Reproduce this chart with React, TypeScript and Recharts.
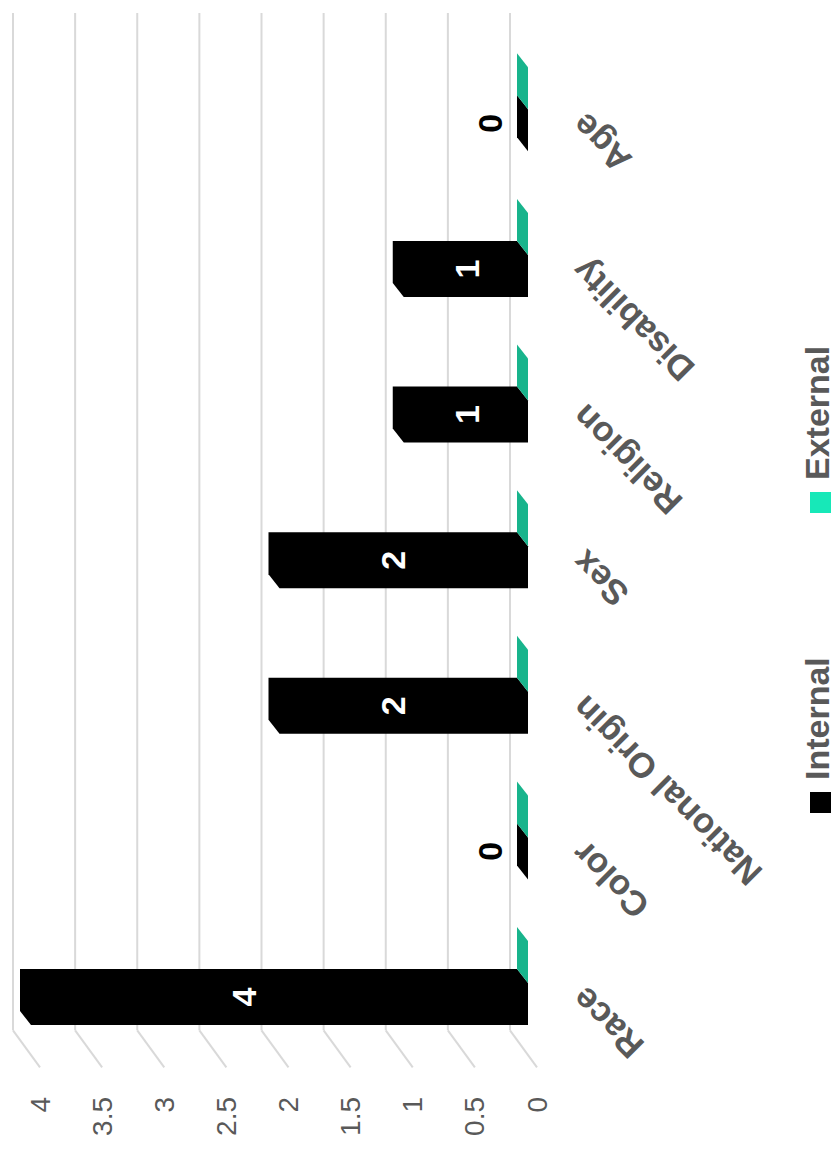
import React from 'react'
import { BarChart, Bar, XAxis, YAxis, CartesianGrid, LabelList } from 'recharts'

const categories = ['Race', 'Color', 'National Origin', 'Sex', 'Religion', 'Disability', 'Age']
const internalValues = [4, 0, 2, 2, 1, 1, 0]
const externalValues = [0, 0, 0, 0, 0, 0, 0]
const valueTicks = [0, 0.5, 1, 1.5, 2, 2.5, 3, 3.5, 4]
const seriesNames = ['Internal', 'External']
const seriesColors = ['#000000', '#17E8B8']
const topFaceColors = ['#000000', '#18B48C']

const data = categories.map((name, i) => ({
  name,
  internal: internalValues[i],
  external: externalValues[i]
}))

// chart is drawn upright, then the whole thing is turned a quarter turn left
const W = 1157
const H = 838
const FONT = '"Liberation Sans", Arial, sans-serif'
const GREY = '#595959'

// fake 3d depth
const DX = 14
const DY = -11
const WALL_DX = 26
const WALL_DY = -18
const FLOOR_DX = -37
const FLOOR_DY = 27

const makeBox = (fill: string) => (props: any) => {
  const { x, y, width, height } = props
  const w = width
  const h = Math.max(0, height)
  const pts = [
    [x, y],
    [x + DX, y + DY],
    [x + w + DX, y + DY],
    [x + w + DX, y + h + DY],
    [x + w, y + h],
    [x, y + h]
  ]
  return <polygon points={pts.map((p) => p.join(',')).join(' ')} fill={fill} />
}

const gridLine = (props: any) => {
  const { x1, x2, y1, index } = props
  const bx1 = x1 + WALL_DX
  const bx2 = x2 + 24
  const by = y1 + WALL_DY
  return (
    <g key={'g' + index}>
      <line x1={bx1} y1={by} x2={bx2} y2={by} stroke="#D9D9D9" strokeWidth={2} />
      <line x1={bx1} y1={by} x2={bx1 + FLOOR_DX} y2={by + FLOOR_DY} stroke="#D9D9D9" strokeWidth={2} />
    </g>
  )
}

const ValueTick = (props: any) => {
  const { y, payload } = props
  return (
    <text x={60} y={y + WALL_DY + FLOOR_DY} textAnchor="end" dominantBaseline="central"
      fontFamily={FONT} fontSize={28} fill={GREY}>
      {payload.value}
    </text>
  )
}

const CategoryTick = (props: any) => {
  const { x, payload } = props
  const ax = x - 10
  const ay = 578
  return (
    <text x={ax} y={ay} textAnchor="end" dominantBaseline="central"
      transform={`rotate(-45 ${ax} ${ay})`}
      fontFamily={FONT} fontSize={35} fontWeight="bold" fill={GREY}>
      {payload.value}
    </text>
  )
}

const DataLabel = (props: any) => {
  const { x, y, width, height, value } = props
  const cx = x + width / 2 + DX / 2
  const base = y + height
  const cy = value === 0 ? base - 38 : base - (0.6 * height - 14)
  return (
    <text x={cx} y={cy} textAnchor="middle" dominantBaseline="central"
      fontFamily={FONT} fontSize={34} fontWeight="bold" fill={value === 0 ? '#000' : '#fff'}>
      {value}
    </text>
  )
}

export default function App() {
  return (
    <div style={{ position: 'absolute', left: 0, top: 0, width: H, height: W, overflow: 'hidden', background: '#fff' }}>
      <div
        style={{
          position: 'absolute',
          left: 0,
          top: 0,
          width: W,
          height: H,
          transformOrigin: '0 0',
          transform: `translateY(${W}px) rotate(-90deg)`
        }}
      >
        <BarChart
          width={W}
          height={H}
          data={data}
          margin={{ top: 31, right: 37, bottom: 280, left: 40.7 }}
          barCategoryGap="21.5%"
          barGap={0}
        >
          <CartesianGrid vertical={false} horizontal={gridLine} />
          <XAxis dataKey="name" height={30} axisLine={false} tickLine={false} interval={0} tick={<CategoryTick />} />
          <YAxis width={60} domain={[0, 4]} ticks={valueTicks} axisLine={false} tickLine={false} tick={<ValueTick />} />
          <Bar dataKey="internal" name={seriesNames[0]} fill={seriesColors[0]} shape={makeBox(topFaceColors[0])} isAnimationActive={false}>
            <LabelList dataKey="internal" content={<DataLabel />} />
          </Bar>
          <Bar dataKey="external" name={seriesNames[1]} fill={seriesColors[1]} shape={makeBox(topFaceColors[1])} isAnimationActive={false} />
        </BarChart>
        <svg width={W} height={H} style={{ position: 'absolute', left: 0, top: 0, pointerEvents: 'none' }}>
          {seriesNames.map((s, i) => {
            const x0 = i === 0 ? 344 : 644
            return (
              <g key={s}>
                <rect x={x0} y={810} width={21} height={21} fill={seriesColors[i]} />
                <text x={x0 + 33} y={829} fontFamily={FONT} fontSize={34} fontWeight="bold" fill={GREY}>{s}</text>
              </g>
            )
          })}
        </svg>
      </div>
    </div>
  )
}
